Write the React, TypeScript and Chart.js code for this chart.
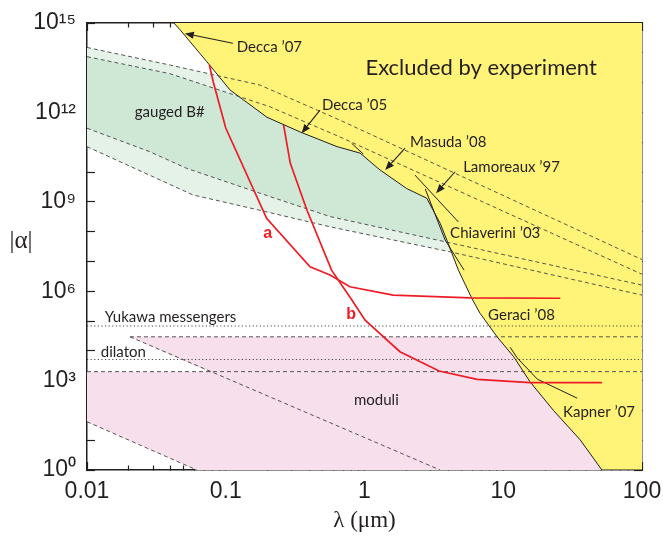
import { useEffect, useRef } from 'react';
import { Chart, registerables } from 'chart.js';

Chart.register(...registerables);

// ---------------- axes ----------------
const xMajorTicks = [0.01, 0.1, 1, 10, 100];
const xTickLabels = ['0.01', '0.1', '1', '10', '100'];
const xMinorMultipliers = [2, 3, 4, 5, 6, 7, 8, 9];
const yMajorTicks = [1e0, 1e1, 1e2, 1e3, 1e4, 1e5, 1e6, 1e7, 1e8, 1e9, 1e10, 1e11, 1e12, 1e13, 1e14, 1e15];
const yLabelledTicks = [1e0, 1e3, 1e6, 1e9, 1e12, 1e15];
const yTickLabels = ['10⁰', '10³', '10⁶', '10⁹', '10¹²', '10¹⁵'];

// ---------------- data (λ in µm, |α|) ----------------
// boundary of the experimentally excluded region
const excludedLambda = [0.0423, 0.0469, 0.0731, 0.1076, 0.198, 0.344, 0.634, 0.929, 1.294, 2.01, 2.81, 3.51, 3.92, 4.75, 5.93, 6.81, 9.0, 11.9, 15.6, 23.0, 35.9, 51.4, 100];
const excludedAlpha = [1e15, 5.9e14, 5.0e13, 5.6e12, 6.9e11, 2.2e11, 7.1e10, 4.3e10, 1.17e10, 2.8e9, 1.32e9, 1.9e8, 5.2e7, 5.1e6, 5.8e5, 1.8e5, 3.0e4, 6.3e3, 9.1e2, 1.0e2, 10.2, 1, 1];

// gauged B# band edges
const gaugedOuterTopLambda = [0.01, 0.0395, 0.176, 0.665, 100];
const gaugedOuterTopAlpha = [1.51e14, 3.9e13, 8.3e12, 5.5e11, 1.15e7];
const gaugedInnerTopLambda = [0.01, 0.0395, 0.208, 0.665, 100];
const gaugedInnerTopAlpha = [7.4e13, 2.0e13, 1.55e12, 1.5e11, 3.7e6];
const gaugedInnerBottomLambda = [0.01, 0.0283, 0.0524, 0.176, 0.564, 4.13, 100];
const gaugedInnerBottomAlpha = [2.95e11, 4.8e10, 1.32e10, 1.95e9, 3.2e8, 4.2e7, 1.6e6];
const gaugedOuterBottomLambda = [0.01, 0.058, 0.176, 0.564, 4.13, 100];
const gaugedOuterBottomAlpha = [7.1e10, 1.7e9, 5.2e8, 1.45e8, 2.1e7, 7.4e5];

// moduli region
const moduliLambda = [0.0204, 100, 100, 0.0618, 0.01, 0.01, 0.075];
const moduliAlpha = [2.95e4, 2.95e4, 1, 1, 41.7, 2.0e3, 2.0e3];
const moduliTopLambda = [0.0204, 100];
const moduliTopAlpha = [2.95e4, 2.95e4];
const moduliBottomLambda = [0.01, 100];
const moduliBottomAlpha = [2.0e3, 2.0e3];
const moduliUpperDiagLambda = [0.0204, 3.51];
const moduliUpperDiagAlpha = [2.95e4, 1];
const moduliLowerDiagLambda = [0.01, 0.0618];
const moduliLowerDiagAlpha = [41.7, 1];

// dotted theory levels
const yukawaLambda = [0.01, 100];
const yukawaAlpha = [6.8e4, 6.8e4];
const dilatonLambda = [0.01, 100];
const dilatonAlpha = [5.1e3, 5.1e3];

// projected sensitivities (red)
const curveALambda = [0.0762, 0.0813, 0.1, 0.197, 0.405, 0.564, 0.785, 1.607, 5.77, 25.8];
const curveAAlpha = [3.9e13, 1.05e13, 3.0e11, 2.8e8, 6.6e6, 3.5e6, 1.41e6, 7.4e5, 6.0e5, 5.8e5];
const curveBLambda = [0.261, 0.292, 0.385, 0.579, 0.813, 1.01, 1.8, 3.45, 6.49, 15.6, 51.4];
const curveBAlpha = [3.8e11, 1.95e10, 5.2e8, 5.1e6, 5.0e5, 1.07e5, 9.3e3, 2.1e3, 1.1e3, 850, 850];

// individual experiment limit segments
const masudaLambda = [0.809, 0.98];
const masudaAlpha = [9.1e10, 4.0e10];
const lamoreauxLambda = [2.31, 4.75];
const lamoreauxAlpha = [7.9e9, 2.1e8];
const chiaveriniLambda = [2.74, 3.81, 5.22];
const chiaveriniAlpha = [2.7e9, 5.2e7, 5.1e6];
const kapnerLambda = [11.2, 12.6, 17.6, 34.1];
const kapnerAlpha = [1.32e4, 5.8e3, 1.12e3, 257];

// annotation texts (anchor in data units)
const labelTexts = ['Excluded by experiment', 'Decca ’07', 'Decca ’05', 'Masuda ’08', 'Lamoreaux ’97', 'Chiaverini ’03', 'Geraci ’08', 'Kapner ’07', 'gauged B#', 'moduli', 'Yukawa messengers', 'dilaton'];
const labelLambda = [6.93, 0.12, 0.493, 2.13, 5.14, 4.14, 7.78, 27.0, 0.0221, 0.84, 0.01343, 0.01256];
const labelAlpha = [3.1e13, 1.55e14, 1.78e12, 1.02e11, 1.48e10, 8.9e7, 1.58e5, 89, 1.05e12, 224, 1.35e5, 9.1e3];
const curveLabelTexts = ['a', 'b'];
const curveLabelLambda = [0.201, 0.8];
const curveLabelAlpha = [8.9e7, 1.7e5];

// arrows: from (label) -> to (limit curve)
const arrowFromLambda = [0.1125, 0.478, 1.96, 4.5];
const arrowFromAlpha = [2.09e14, 1.2e12, 6.3e10, 1.02e10];
const arrowToLambda = [0.0507, 0.352, 1.41, 3.28];
const arrowToAlpha = [4.47e14, 2.0e11, 1.17e10, 1.95e9];

// ---------------- styles ----------------
const YELLOW = '#FFF378';
const GREEN_DARK = '#CFE8D6';
const GREEN_LIGHT = '#E4F2E8';
const PINK = '#F7DFEC';
const RED = '#ED1C24';
const INK = '#231F20';
const ANN_FONT = 'Lato, "Open Sans", sans-serif';
const AXIS_FONT = '"Liberation Sans", Arial, sans-serif';
const SERIF_FONT = '"Liberation Serif", "Times New Roman", serif';

const pts = (xs: number[], ys: number[]) => xs.map((x, i) => ({ x, y: ys[i] }));
const rev = <T,>(a: T[]) => a.slice().reverse();
const same = (a: number, b: number) => Math.abs(Math.log10(a) - Math.log10(b)) < 1e-6;

const xTickValues: number[] = [];
xMajorTicks.forEach((m, i) => {
  xTickValues.push(m);
  if (i < xMajorTicks.length - 1) xMinorMultipliers.forEach((k) => xTickValues.push(m * k));
});
const isMajorX = (v: number) => xMajorTicks.some((m) => same(m, v));

const base = { pointRadius: 0, pointHoverRadius: 0, tension: 0 };

const polygon = (data: { x: number; y: number }[], color: string, order: number) => ({
  ...base,
  data,
  fill: 'shape',
  backgroundColor: color,
  borderColor: 'rgba(0,0,0,0)',
  borderWidth: 1,
  order,
});

const stroke = (xs: number[], ys: number[], color: string, width: number, dash: number[], order: number) => ({
  ...base,
  data: pts(xs, ys),
  fill: false,
  borderColor: color,
  borderWidth: width,
  borderDash: dash,
  order,
});

const DASH = [4, 3];
const DOT = [1.2, 2.4];

function drawArrow(ctx: CanvasRenderingContext2D, x1: number, y1: number, x2: number, y2: number) {
  const ang = Math.atan2(y2 - y1, x2 - x1);
  const L = 9;
  const W = 3.6;
  const bx = x2 - L * Math.cos(ang);
  const by = y2 - L * Math.sin(ang);
  ctx.beginPath();
  ctx.moveTo(x1, y1);
  ctx.lineTo(bx, by);
  ctx.stroke();
  ctx.beginPath();
  ctx.moveTo(x2, y2);
  ctx.lineTo(bx + W * Math.sin(ang), by - W * Math.cos(ang));
  ctx.lineTo(bx - W * Math.sin(ang), by + W * Math.cos(ang));
  ctx.closePath();
  ctx.fill();
}

const annotationPlugin = {
  id: 'annotations',
  afterDatasetsDraw(chart: any) {
    const { ctx, scales } = chart;
    const xs = scales.x;
    const ys = scales.y;
    ctx.save();
    ctx.strokeStyle = INK;
    ctx.fillStyle = INK;
    ctx.lineWidth = 1.1;
    arrowFromLambda.forEach((_, i) => {
      drawArrow(
        ctx,
        xs.getPixelForValue(arrowFromLambda[i]),
        ys.getPixelForValue(arrowFromAlpha[i]),
        xs.getPixelForValue(arrowToLambda[i]),
        ys.getPixelForValue(arrowToAlpha[i]),
      );
    });
    ctx.textBaseline = 'middle';
    labelTexts.forEach((t, i) => {
      const big = i === 0;
      ctx.font = big ? `22px ${ANN_FONT}` : `15px ${ANN_FONT}`;
      ctx.textAlign = big ? 'center' : 'left';
      ctx.fillText(t, xs.getPixelForValue(labelLambda[i]), ys.getPixelForValue(labelAlpha[i]));
    });
    ctx.fillStyle = RED;
    ctx.textAlign = 'center';
    ctx.font = `bold 16px ${AXIS_FONT}`;
    curveLabelTexts.forEach((t, i) => {
      ctx.fillText(t, xs.getPixelForValue(curveLabelLambda[i]), ys.getPixelForValue(curveLabelAlpha[i]));
    });
    ctx.restore();
  },
  afterDraw(chart: any) {
    const { ctx, chartArea } = chart;
    ctx.save();
    ctx.fillStyle = INK;
    ctx.font = `25px ${SERIF_FONT}`;
    ctx.textAlign = 'center';
    ctx.textBaseline = 'middle';
    ctx.fillText('|α|', chartArea.left - 66, (chartArea.top + chartArea.bottom) / 2 - 5);
    ctx.restore();
  },
};

const tickGrid = (dashFn: (v: number) => number[]) => ({
  display: true,
  drawOnChartArea: false,
  drawTicks: true,
  tickLength: -8,
  tickColor: INK,
  tickWidth: 1.2,
  tickBorderDash: (c: any) => dashFn(c.tick ? c.tick.value : 1),
});

const fitX = (h: number) => (s: any) => {
  s.height = h;
  s.paddingLeft = 0;
  s.paddingRight = 0;
};
const fitY = (w: number) => (s: any) => {
  s.width = w;
  s.paddingTop = 0;
  s.paddingBottom = 0;
};

export default function App() {
  const ref = useRef<HTMLCanvasElement>(null);
  useEffect(() => {
    document.body.style.margin = '0';
    const datasets: any[] = [
      polygon([...pts(gaugedOuterTopLambda, gaugedOuterTopAlpha), ...rev(pts(gaugedInnerTopLambda, gaugedInnerTopAlpha))], GREEN_LIGHT, 100),
      polygon([...pts(gaugedInnerBottomLambda, gaugedInnerBottomAlpha), ...rev(pts(gaugedOuterBottomLambda, gaugedOuterBottomAlpha))], GREEN_LIGHT, 100),
      polygon([...pts(gaugedInnerTopLambda, gaugedInnerTopAlpha), ...rev(pts(gaugedInnerBottomLambda, gaugedInnerBottomAlpha))], GREEN_DARK, 99),
      polygon(pts(moduliLambda, moduliAlpha), PINK, 98),
      {
        ...base,
        data: pts(excludedLambda, excludedAlpha),
        fill: 'end',
        backgroundColor: YELLOW,
        borderColor: INK,
        borderWidth: 1,
        order: 90,
      },
      stroke(gaugedOuterTopLambda, gaugedOuterTopAlpha, '#444', 0.9, DASH, 50),
      stroke(gaugedInnerTopLambda, gaugedInnerTopAlpha, '#444', 0.9, DASH, 50),
      stroke(gaugedInnerBottomLambda, gaugedInnerBottomAlpha, '#444', 0.9, DASH, 50),
      stroke(gaugedOuterBottomLambda, gaugedOuterBottomAlpha, '#444', 0.9, DASH, 50),
      stroke(moduliTopLambda, moduliTopAlpha, '#444', 0.9, DASH, 50),
      stroke(moduliBottomLambda, moduliBottomAlpha, '#444', 0.9, DASH, 50),
      stroke(moduliUpperDiagLambda, moduliUpperDiagAlpha, '#444', 0.9, DASH, 50),
      stroke(moduliLowerDiagLambda, moduliLowerDiagAlpha, '#444', 0.9, DASH, 50),
      stroke(yukawaLambda, yukawaAlpha, '#333', 0.9, DOT, 50),
      stroke(dilatonLambda, dilatonAlpha, '#333', 0.9, DOT, 50),
      stroke(masudaLambda, masudaAlpha, INK, 1, [], 40),
      stroke(lamoreauxLambda, lamoreauxAlpha, INK, 1, [], 40),
      stroke(chiaveriniLambda, chiaveriniAlpha, INK, 1, [], 40),
      stroke(kapnerLambda, kapnerAlpha, INK, 1, [], 40),
      stroke(curveALambda, curveAAlpha, RED, 1.7, [], 10),
      stroke(curveBLambda, curveBAlpha, RED, 1.7, [], 10),
    ];

    const chart = new Chart(ref.current as HTMLCanvasElement, {
      type: 'line',
      data: { datasets },
      plugins: [annotationPlugin as any],
      options: {
        responsive: false,
        animation: false,
        events: [],
        layout: { padding: { top: 23, right: 21, left: 0, bottom: 0 } },
        plugins: { legend: { display: false }, tooltip: { enabled: false }, title: { display: false } },
        scales: {
          x: {
            type: 'logarithmic',
            position: 'bottom',
            min: 0.01,
            max: 100,
            afterBuildTicks: (s: any) => {
              s.ticks = xTickValues.map((v) => ({ value: v, major: isMajorX(v) }));
            },
            afterFit: fitX(67),
            ticks: {
              autoSkip: false,
              maxRotation: 0,
              padding: 16,
              color: INK,
              font: { family: AXIS_FONT, size: 23 },
              callback: (v: any) => {
                const i = xMajorTicks.findIndex((m) => same(m, Number(v)));
                return i >= 0 ? xTickLabels[i] : '';
              },
            },
            grid: tickGrid((v) => (isMajorX(v) ? [] : [5, 100])) as any,
            border: { display: true, color: INK, width: 1.5 },
            title: {
              display: true,
              text: 'λ (μm)',
              color: INK,
              font: { family: SERIF_FONT, size: 23 },
              padding: { top: 0, bottom: 2 },
            },
          },
          x2: {
            type: 'logarithmic',
            position: 'top',
            min: 0.01,
            max: 100,
            afterBuildTicks: (s: any) => {
              s.ticks = xTickValues.map((v) => ({ value: v, major: isMajorX(v) }));
            },
            afterFit: fitX(0),
            ticks: { display: false, autoSkip: false },
            grid: tickGrid((v) => (isMajorX(v) ? [] : [0, 3.5, 6, 100])) as any,
            border: { display: true, color: INK, width: 1.5 },
          },
          y: {
            type: 'logarithmic',
            position: 'left',
            min: 1,
            max: 1e15,
            afterBuildTicks: (s: any) => {
              s.ticks = yMajorTicks.map((v) => ({ value: v, major: true }));
            },
            afterFit: fitY(87),
            ticks: {
              autoSkip: false,
              padding: 19,
              color: INK,
              font: { family: AXIS_FONT, size: 23 },
              callback: (v: any) => {
                const i = yLabelledTicks.findIndex((m) => same(m, Number(v)));
                return i >= 0 ? yTickLabels[i] : '';
              },
            },
            grid: tickGrid(() => []) as any,
            border: { display: true, color: INK, width: 1.5 },
          },
          y2: {
            type: 'logarithmic',
            position: 'right',
            min: 1,
            max: 1e15,
            afterBuildTicks: (s: any) => {
              s.ticks = yMajorTicks.map((v) => ({ value: v, major: true }));
            },
            afterFit: fitY(0),
            ticks: { display: false, autoSkip: false },
            grid: tickGrid(() => []) as any,
            border: { display: true, color: INK, width: 1.5 },
          },
        },
      } as any,
    });
    return () => chart.destroy();
  }, []);
  return (
    <div style={{ width: 663, height: 537 }}>
      <canvas ref={ref} width={663} height={537} style={{ display: 'block', width: '663px', height: '537px' }} />
    </div>
  );
}
